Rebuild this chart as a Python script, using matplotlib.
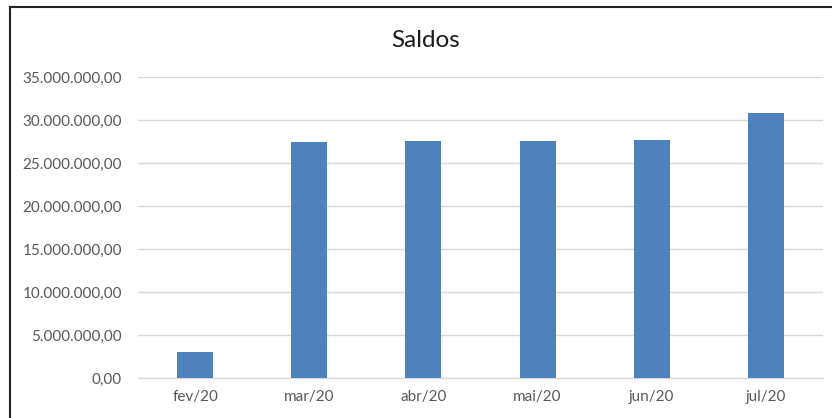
import matplotlib
matplotlib.use("Agg")
import matplotlib.pyplot as plt
from matplotlib.ticker import FuncFormatter, MultipleLocator
from matplotlib.lines import Line2D

categories = ["fev/20", "mar/20", "abr/20", "mai/20", "jun/20", "jul/20"]
saldos = [3020000, 27450000, 27560000, 27570000, 27700000, 30780000]

plt.rcParams['font.family'] = ['Lato', 'DejaVu Sans']

fig = plt.figure(figsize=(8.32, 4.18), dpi=100)
ax = fig.add_axes([138/832, 40/418, (823-138)/832, (378-77)/418])

x = list(range(len(categories)))
ax.bar(x, saldos, width=0.316, color="#4f81bd", zorder=3)
ax.set_xlim(-0.5, len(categories) - 0.5)
ax.set_ylim(0, 35000000)
ax.yaxis.set_major_locator(MultipleLocator(5000000))

def fmt(v, pos):
    s = f"{v:,.2f}"
    return s.replace(",", "X").replace(".", ",").replace("X", ".")

ax.yaxis.set_major_formatter(FuncFormatter(fmt))
ax.set_xticks(x)
ax.set_xticklabels(categories)
ax.grid(axis="y", color="#d9d9d9", linewidth=1.0, zorder=0)
for s in ["top", "right", "left"]:
    ax.spines[s].set_visible(False)
ax.spines["bottom"].set_color("#d9d9d9")
ax.spines["bottom"].set_linewidth(1.0)
ax.tick_params(axis="both", length=0, labelsize=11, colors="#595959")
ax.tick_params(axis="y", pad=11.5)
ax.tick_params(axis="x", pad=9)

fig.text(426/832, 1 - 47/418, "Saldos", ha="center", va="baseline", fontsize=17.5, color="#1a1a1a")

# outer border (left and top)
fig.add_artist(Line2D([10/832, 10/832], [0, 1 - 7/418], transform=fig.transFigure, color="#222222", linewidth=1.5))
fig.add_artist(Line2D([10/832, 1], [1 - 7/418, 1 - 7/418], transform=fig.transFigure, color="#222222", linewidth=1.5))

fig.savefig("out.png", dpi=100)
